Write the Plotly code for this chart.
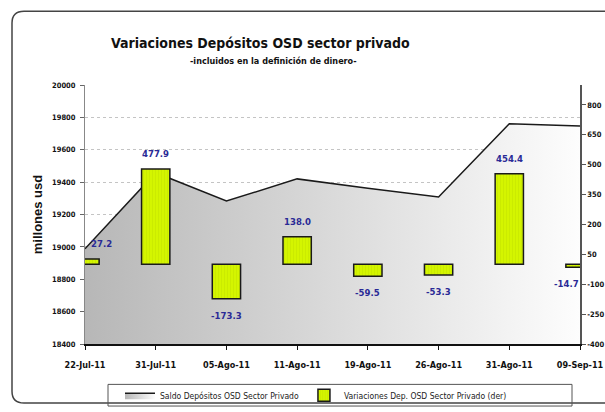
import plotly.graph_objects as go

# data
fechas = ["22-Jul-11", "31-Jul-11", "05-Ago-11", "11-Ago-11",
          "19-Ago-11", "26-Ago-11", "31-Ago-11", "09-Sep-11"]
saldo = [18988, 19458, 19283, 19420, 19362, 19308, 19760, 19746]
variacion = [27.2, 477.9, -173.3, 138.0, -59.5, -53.3, 454.4, -14.7]

saldo_ticks = list(range(18400, 20001, 200))
var_ticks = list(range(-400, 801, 150))

NARROW = "Liberation Sans Narrow, Arial Narrow, DejaVu Sans Condensed, sans-serif"
W, H = 615, 422
L, T = 85, 85
R, B = W - 580, H - 348


def px_x(p):
    # pixel -> paper x
    return (p - L) / (W - L - R)


def px_y(p):
    # pixel -> paper y
    return (H - B - p) / (H - B - T)


fig = go.Figure()

# area: saldo (left axis)
fig.add_trace(go.Scatter(
    x=fechas, y=saldo, name="Saldo Depósitos OSD Sector Privado",
    mode="lines", line=dict(color="#1a1a1a", width=1.5),
    fill="tozeroy",
    fillgradient=dict(type="horizontal",
                      colorscale=[[0, "#b7b7b7"], [1, "#fdfdfd"]]),
    yaxis="y",
))

# bars: variaciones (right axis)
fig.add_trace(go.Bar(
    x=fechas, y=variacion, name="Variaciones Dep. OSD Sector Privado (der)",
    width=0.4,
    marker=dict(color="#cdef00", line=dict(color="#1a1a1a", width=1.5),
                pattern=dict(shape="|", size=3, solidity=0.2,
                             fgcolor="#b4d400", bgcolor="#d4f500")),
    yaxis="y2",
))

# value labels
for i, (f, v) in enumerate(zip(fechas, variacion)):
    xs = 0
    if i == 0:
        xs = 16
    elif i == len(fechas) - 1:
        xs = -14
    fig.add_annotation(
        x=f, y=v, yref="y2", text=f"{v:.1f}", showarrow=False,
        xshift=xs, yshift=8 if v > 0 else -9,
        xanchor="center", yanchor="bottom" if v > 0 else "top",
        font=dict(family=NARROW, size=9.5, color="#2a2a96", weight="bold"),
    )

# title
fig.add_annotation(
    x=px_x(260), y=px_y(42), xref="paper", yref="paper", showarrow=False,
    xanchor="center", yanchor="middle",
    text="Variaciones Depósitos OSD sector privado",
    font=dict(family=NARROW, size=14, color="#111", weight="bold"),
)
fig.add_annotation(
    x=px_x(273), y=px_y(61), xref="paper", yref="paper", showarrow=False,
    xanchor="center", yanchor="middle",
    text="-incluidos en la definición de dinero-",
    font=dict(family=NARROW, size=9, color="#111", weight="bold"),
)

# outer rounded frame
x0, x1 = px_x(12), px_x(640)
y0, y1 = px_y(10), px_y(408)
rx, ry = 12 / (W - L - R), 12 / (H - B - T)
frame = (f"M {x1},{y0} L {x0 + rx},{y0} Q {x0},{y0} {x0},{y0 - ry} "
         f"L {x0},{y1 + ry} Q {x0},{y1} {x0 + rx},{y1} L {x1},{y1}")
fig.add_shape(type="path", path=frame, xref="paper", yref="paper",
              line=dict(color="#444", width=1.5))

# legend box
fig.add_shape(type="rect", xref="paper", yref="paper",
              x0=px_x(108), x1=px_x(572), y0=px_y(411), y1=px_y(389),
              line=dict(color="#555", width=1))

fig.update_layout(
    width=W, height=H,
    margin=dict(l=L, r=R, t=T, b=B),
    paper_bgcolor="white", plot_bgcolor="white",
    font=dict(family=NARROW, color="#111"),
    showlegend=True,
    legend=dict(orientation="h", x=px_x(120), y=px_y(400), xanchor="left",
                yanchor="middle",
                font=dict(family=NARROW, size=8.5, color="#222"),
                bgcolor="rgba(0,0,0,0)", itemwidth=30),
    xaxis=dict(type="category", range=[0, 7], showline=True,
               linecolor="#111", linewidth=2, ticks="outside", ticklen=4,
               tickcolor="#111", showgrid=False, ticklabelstandoff=7,
               tickfont=dict(family=NARROW, size=9, color="#111", weight="bold")),
    yaxis=dict(range=[18400, 20000], tickvals=saldo_ticks,
               ticktext=[str(t) for t in saldo_ticks],
               showline=True, linecolor="#888", linewidth=1,
               ticks="outside", ticklen=4, tickcolor="#666",
               ticklabelstandoff=3,
               showgrid=True, gridcolor="#c4c4c4", griddash="dot", gridwidth=1,
               zeroline=False,
               tickfont=dict(family=NARROW, size=7.5, color="#111", weight="bold"),
               title=dict(text="millones usd", standoff=6,
                          font=dict(family="Liberation Sans, Arial, sans-serif",
                                    size=13, color="#111", weight="bold"))),
    yaxis2=dict(overlaying="y", side="right", range=[-400, 900],
                tickvals=var_ticks, ticktext=[str(t) for t in var_ticks],
                showgrid=False, zeroline=False,
                showline=True, linecolor="#555", linewidth=1.5,
                ticks="outside", ticklen=4, tickcolor="#555",
                tickfont=dict(family=NARROW, size=7.5, color="#111", weight="bold")),
)

# no body margin, fixed size, so the figure sits at the window's corner
fig.write_html("out.html",
               config={"responsive": False, "displayModeBar": False},
               post_script="document.body.style.margin='0';"
                           "document.body.style.overflow='hidden';")
